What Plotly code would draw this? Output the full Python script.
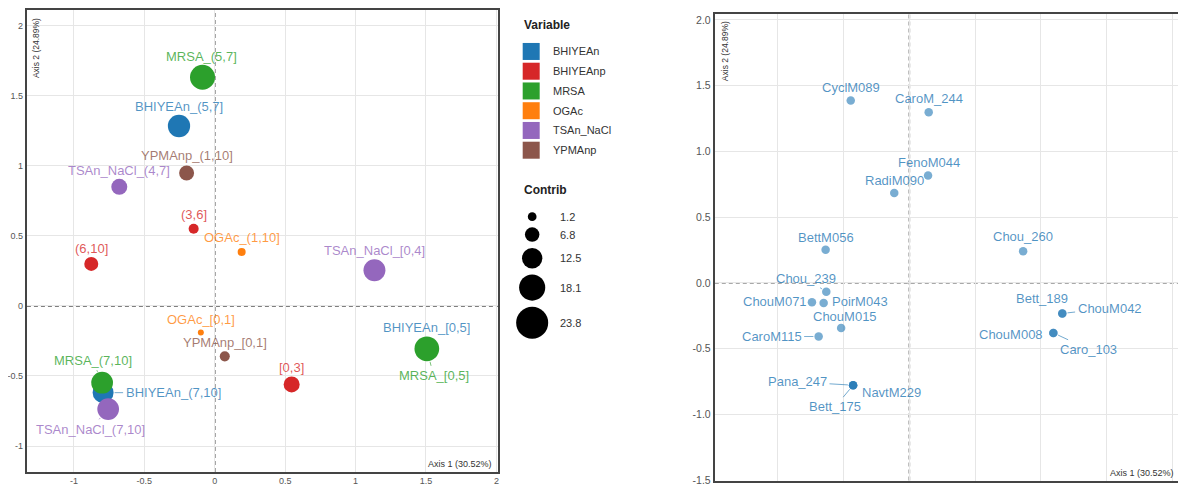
import plotly.graph_objects as go

# ---------------- data ----------------
variables = ["BHIYEAn", "BHIYEAnp", "MRSA", "OGAc", "TSAn_NaCl", "YPMAnp"]
var_colors = ["#1f77b4", "#d62728", "#2ca02c", "#ff7f0e", "#9467bd", "#8c564b"]

# Left panel: categories (MCA variable categories)
cat_labels = ["BHIYEAn_(5,7]", "BHIYEAn_[0,5]", "BHIYEAn_(7,10]",
              "(3,6]", "(6,10]", "[0,3]",
              "MRSA_(5,7]", "MRSA_[0,5]", "MRSA_(7,10]",
              "OGAc_(1,10]", "OGAc_[0,1]",
              "TSAn_NaCl_(4,7]", "TSAn_NaCl_[0,4]", "TSAn_NaCl_(7,10]",
              "YPMAnp_(1,10]", "YPMAnp_[0,1]"]
cat_variable = ["BHIYEAn", "BHIYEAn", "BHIYEAn",
                "BHIYEAnp", "BHIYEAnp", "BHIYEAnp",
                "MRSA", "MRSA", "MRSA",
                "OGAc", "OGAc",
                "TSAn_NaCl", "TSAn_NaCl", "TSAn_NaCl",
                "YPMAnp", "YPMAnp"]
cat_axis1 = [-0.254, 1.506, -0.793,
             -0.150, -0.877, 0.546,
             -0.087, 1.506, -0.800,
             0.191, -0.099,
             -0.678, 1.134, -0.757,
             -0.200, 0.071]
cat_axis2 = [1.284, -0.306, -0.619,
             0.551, 0.300, -0.560,
             1.632, -0.306, -0.548,
             0.385, -0.189,
             0.850, 0.255, -0.736,
             0.949, -0.360]
cat_contrib = [20.6, 20.0, 19.0,
               6.0, 10.7, 13.1,
               23.8, 23.5, 19.9,
               3.6, 1.2,
               13.1, 20.2, 19.9,
               11.9, 6.0]
contrib_breaks = [1.2, 6.8, 12.5, 18.1, 23.8]

# Right panel: individuals
ind_labels = ["CyclM089", "CaroM_244", "FenoM044", "RadiM090", "BettM056", "Chou_260",
              "Chou_239", "ChouM071", "PoirM043", "ChouM015", "CaroM115",
              "Pana_247", "NavtM229", "Bett_175",
              "Bett_189", "ChouM042", "ChouM008", "Caro_103"]
ind_axis1 = [-0.446, 0.147, 0.142, -0.115, -0.637, 0.865,
             -0.632, -0.741, -0.652, -0.519, -0.690,
             -0.428, -0.428, -0.428,
             1.163, 1.163, 1.095, 1.095]
ind_axis2 = [1.388, 1.297, 0.816, 0.684, 0.252, 0.240,
             -0.068, -0.148, -0.153, -0.343, -0.409,
             -0.779, -0.779, -0.779,
             -0.233, -0.233, -0.381, -0.381]

left_xticks = [-1, -0.5, 0, 0.5, 1, 1.5, 2]
left_xtext = ["-1", "-0.5", "0", "0.5", "1", "1.5", "2"]
left_yticks = [-1, -0.5, 0, 0.5, 1, 1.5, 2]
left_ytext = ["-1", "-0.5", "0", "0.5", "1", "1.5", "2"]
right_xticks = [-1.0, -0.5, 0.0, 0.5, 1.0, 1.5, 2.0]
right_xtext = ["-1.0", "-0.5", "0.0", "0.5", "1.0", "1.5", "2.0"]
right_yticks = [-1.5, -1.0, -0.5, 0.0, 0.5, 1.0, 1.5, 2.0]
right_ytext = ["-1.5", "-1.0", "-0.5", "0.0", "0.5", "1.0", "1.5", "2.0"]

axis1_title = "Axis 1 (30.52%)"
axis2_title = "Axis 2 (24.89%)"

# ---------------- styling / layout helpers ----------------
# The page keeps the browser's 8px body margin, so the figure itself is
# 1171x478 and sits 8px in from the window edges (page = 1187x494).
PAGE_MARGIN = 8
W, H = 1187 - 2 * PAGE_MARGIN, 494 - 2 * PAGE_MARGIN
FONT = "Liberation Sans, Arial, sans-serif"

# label offsets in pixels (dx, dy screen-down, leader segment?)
LABEL_POS = {
    "MRSA_(5,7]": (-1, -20.6, False), "BHIYEAn_(5,7]": (0, -19.4, False),
    "YPMAnp_(1,10]": (0, -17, False), "TSAn_NaCl_(4,7]": (0, -16.6, False),
    "(3,6]": (0, -14, False), "OGAc_(1,10]": (0, -14.3, False),
    "(6,10]": (0, -15.3, False), "TSAn_NaCl_[0,4]": (0, -19.4, False),
    "OGAc_[0,1]": (0, -13, False), "YPMAnp_[0,1]": (0, -14, False),
    "[0,3]": (0, -16.6, False), "BHIYEAn_[0,5]": (0, -21.6, False),
    "MRSA_[0,5]": (6.7, 27, True), "MRSA_(7,10]": (-9.4, -22.4, True),
    "BHIYEAn_(7,10]": (70, 0, True), "TSAn_NaCl_(7,10]": (-17.7, 20, True),
    "CyclM089": (0, -13, False), "CaroM_244": (0, -13.4, False),
    "FenoM044": (0.6, -12.7, False), "RadiM090": (-0.2, -12.6, False),
    "BettM056": (0.3, -12.7, False), "Chou_260": (0, -14.3, False),
    "Chou_239": (-20.6, -13.6, True), "ChouM071": (-37, -1, False),
    "PoirM043": (36.5, -1.7, False), "ChouM015": (3.7, -11, False),
    "CaroM115": (-47, 0, True), "Pana_247": (-55.6, -3.3, True),
    "NavtM229": (38, 7, False), "Bett_175": (-18, 21.7, True),
    "Bett_189": (-20, -15.3, False), "ChouM042": (47.3, -5.3, True),
    "ChouM008": (-42, 1.7, False), "Caro_103": (35, 16.3, True),
}


def plot_size(v):
    return 5 + 0.84 * v


def legend_size(v):
    return 7.5 + 1.03 * v


def rgba(hex_color, a):
    h = hex_color.lstrip("#")
    r, g, b = int(h[0:2], 16), int(h[2:4], 16), int(h[4:6], 16)
    return f"rgba({r},{g},{b},{a})"


def px_x(p):
    """window pixel x -> paper fraction"""
    return (p - PAGE_MARGIN) / W


def px_y(p):
    """window pixel y (from top) -> paper fraction"""
    return 1 - (p - PAGE_MARGIN) / H


fig = go.Figure()
annotations = []

# ---- left panel traces ----
color_of = dict(zip(variables, var_colors))
for var, col in zip(variables, var_colors):
    idx = [i for i, v in enumerate(cat_variable) if v == var]
    fig.add_trace(go.Scatter(
        x=[cat_axis1[i] for i in idx], y=[cat_axis2[i] for i in idx],
        mode="markers", xaxis="x", yaxis="y", name=var,
        marker=dict(color=col, size=[plot_size(cat_contrib[i]) for i in idx],
                    opacity=1, line=dict(width=0)),
        text=[cat_labels[i] for i in idx], hoverinfo="text",
    ))


def add_label(text, x, y, xref, yref, color, radius):
    dx, dy, leader = LABEL_POS[text]
    base = dict(text=text, x=x, y=y, xref=xref, yref=yref,
                font=dict(family=FONT, size=13, color=color))
    if leader:
        base.update(showarrow=True, ax=dx, ay=dy, axref="pixel", ayref="pixel",
                    arrowhead=0, arrowwidth=0.8, arrowcolor=color,
                    standoff=radius + 1, startstandoff=1)
    else:
        base.update(showarrow=False, xshift=dx, yshift=-dy,
                    xanchor="center", yanchor="middle")
    annotations.append(base)


for lab, var, x, y, c in zip(cat_labels, cat_variable, cat_axis1, cat_axis2, cat_contrib):
    add_label(lab, x, y, "x", "y", rgba(color_of[var], 0.78), plot_size(c) / 2)

# ---- right panel trace ----
ind_color = "#1f77b4"
fig.add_trace(go.Scatter(
    x=ind_axis1, y=ind_axis2, mode="markers", xaxis="x2", yaxis="y2",
    marker=dict(color=ind_color, size=8.5, opacity=0.6, line=dict(width=0)),
    text=ind_labels, hoverinfo="text",
))
for lab, x, y in zip(ind_labels, ind_axis1, ind_axis2):
    add_label(lab, x, y, "x2", "y2", rgba(ind_color, 0.78), 4.25)

# ---- manual legend (own hidden axes in window-pixel coordinates) ----
row_y = [51 + 20 * i for i in range(len(variables))]
fig.add_trace(go.Scatter(
    x=[528.3] * len(variables), y=row_y, mode="markers", xaxis="x3", yaxis="y3",
    marker=dict(symbol="square", size=17, color=var_colors, opacity=1, line=dict(width=0)),
    hoverinfo="skip",
))
for v, yy in zip(variables, row_y):
    annotations.append(dict(text=v, x=548, y=yy, xref="x3", yref="y3", showarrow=False,
                            xanchor="left", yanchor="middle",
                            font=dict(family=FONT, size=11, color="#333")))
annotations.append(dict(text="<b>Variable</b>", x=519, y=24, xref="x3", yref="y3",
                        showarrow=False, xanchor="left", yanchor="middle",
                        font=dict(family=FONT, size=12, color="#222")))
annotations.append(dict(text="<b>Contrib</b>", x=519, y=191, xref="x3", yref="y3",
                        showarrow=False, xanchor="left", yanchor="middle",
                        font=dict(family=FONT, size=12, color="#222")))
circ_y = []
yy = 218.3
for i, b in enumerate(contrib_breaks):
    if i > 0:
        yy += (legend_size(contrib_breaks[i - 1]) + legend_size(b)) / 2 + 6.5
    circ_y.append(yy)
fig.add_trace(go.Scatter(
    x=[529.3] * len(contrib_breaks), y=circ_y, mode="markers", xaxis="x3", yaxis="y3",
    marker=dict(color="black", size=[legend_size(b) for b in contrib_breaks],
                opacity=1, line=dict(width=0)),
    hoverinfo="skip",
))
for b, yy in zip(contrib_breaks, circ_y):
    annotations.append(dict(text=f"{b}", x=555, y=yy, xref="x3", yref="y3", showarrow=False,
                            xanchor="left", yanchor="middle",
                            font=dict(family=FONT, size=11, color="#333")))

# ---- axis titles (inside panels) ----
for cx, cy in [(30.7, 48), (724, 51)]:
    annotations.append(dict(text=axis2_title, x=px_x(cx), y=px_y(cy), xref="paper", yref="paper",
                            showarrow=False, textangle=-90, xanchor="center", yanchor="middle",
                            font=dict(family=FONT, size=8.5, color="#333")))
for cx, cy in [(457, 469), (1143, 478)]:
    annotations.append(dict(text=axis1_title, x=px_x(cx), y=px_y(cy), xref="paper", yref="paper",
                            showarrow=False, xanchor="center", yanchor="middle",
                            font=dict(family=FONT, size=9, color="#333")))

# ---- zero lines ----
shapes = []
dash = dict(color="#555", width=1.5, dash="4px,3px")
for xr, yr in [("x", "y"), ("x2", "y2")]:
    shapes.append(dict(type="line", xref=xr, yref=f"{yr} domain", x0=0, x1=0, y0=0, y1=1,
                       line=dash, layer="below"))
    shapes.append(dict(type="line", xref=f"{xr} domain", yref=yr, x0=0, x1=1, y0=0, y1=0,
                       line=dash, layer="below"))

axis_common = dict(showgrid=True, gridcolor="#e6e6e6", gridwidth=1, zeroline=False,
                   showline=True, linecolor="#444", linewidth=2, ticks="")

fig.update_layout(
    width=W, height=H, margin=dict(l=0, r=0, t=0, b=0),
    paper_bgcolor="white", plot_bgcolor="white", showlegend=False,
    annotations=annotations, shapes=shapes,
    xaxis=dict(domain=[px_x(21), px_x(495)], range=[-1.334, 2.012], anchor="y",
               tickvals=left_xticks, ticktext=left_xtext, mirror=True, ticklabelstandoff=-1,
               tickfont=dict(family=FONT, size=9, color="#555"), **axis_common),
    yaxis=dict(domain=[px_y(477), px_y(9)], range=[-1.186, 2.112], anchor="x",
               tickvals=left_yticks, ticktext=left_ytext, mirror=True,
               tickfont=dict(family=FONT, size=9, color="#555"), **axis_common),
    # the reference's bottom tick labels of this panel fall off the picture
    xaxis2=dict(domain=[px_x(713), 1.0], range=[-1.480, 2.043], anchor="y2",
                tickvals=right_xticks, ticktext=right_xtext, mirror=True,
                showticklabels=False,
                tickfont=dict(family=FONT, size=10.5, color="#555"), **axis_common),
    yaxis2=dict(domain=[px_y(485.5), px_y(12.7)], range=[-1.504, 2.048], anchor="x2",
                tickvals=right_yticks, ticktext=right_ytext, mirror=False,
                tickfont=dict(family=FONT, size=10.5, color="#555"), **axis_common),
    xaxis3=dict(domain=[px_x(500), px_x(680)], range=[500, 680], visible=False,
                anchor="y3", fixedrange=True),
    yaxis3=dict(domain=[0, 1], range=[494 - PAGE_MARGIN, PAGE_MARGIN], visible=False,
                anchor="x3", fixedrange=True),
)

fig.write_html("out.html", config={"displayModeBar": False})
